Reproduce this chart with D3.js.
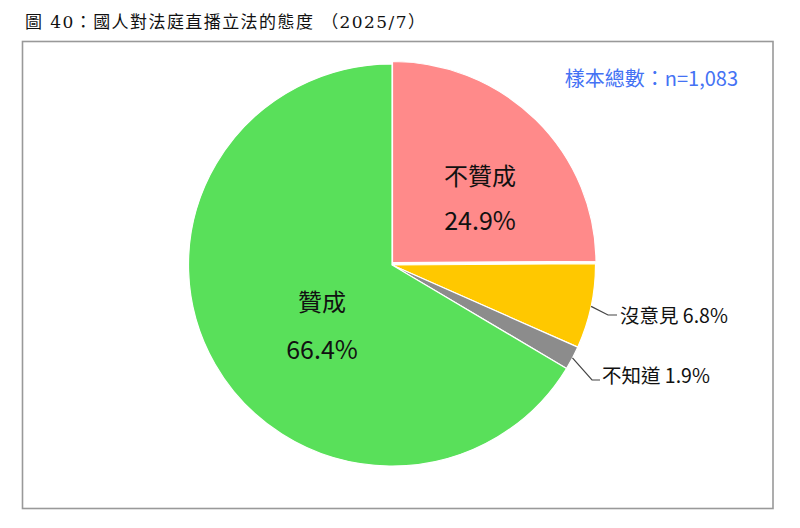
<!DOCTYPE html>
<html>
<head>
<meta charset="utf-8">
<script src="https://cdn.jsdelivr.net/npm/d3@7"></script>
<style>
  body { margin: 0; background: #fff; }
  svg { display: block; }
</style>
</head>
<body>
<svg width="800" height="528"></svg>
<script>
// data
var categories = ['不贊成', '沒意見', '不知道', '贊成'];
var values = [24.9, 6.8, 1.9, 66.4];
var colors = ['#FF8A8A', '#FFC800', '#8C8C8C', '#59E05A'];
var titleText = '圖 40：國人對法庭直播立法的態度 （2025/7）';
var sampleText = '樣本總數：n=1,083';

var svg = d3.select('svg');
var cx = 392, cy = 265, r = 203.5;
var lblFont = "'Noto Sans CJK TC', 'Noto Sans', sans-serif";

// title
svg.append('text')
    .attr('x', 25)
    .attr('y', 22)
    .attr('dominant-baseline', 'central')
    .attr('textLength', 400)
    .attr('lengthAdjust', 'spacing')
    .style('font-family', "'DejaVu Serif', 'Liberation Serif', 'Noto Sans CJK TC', serif")
    .style('font-size', '17px')
    .style('fill', '#111')
    .text(titleText);

// frame
svg.append('rect')
    .attr('x', 22.5)
    .attr('y', 41.5)
    .attr('width', 750.5)
    .attr('height', 467)
    .attr('fill', 'none')
    .attr('stroke', '#999')
    .attr('stroke-width', 1.6);

svg.append('text')
    .attr('x', 738)
    .attr('y', 77)
    .attr('text-anchor', 'end')
    .attr('dominant-baseline', 'central')
    .style('font-family', lblFont)
    .style('font-size', '20px')
    .style('fill', '#4472F4')
    .text(sampleText);

var pie = d3.pie().sort(null).value(function(d) { return d; });
var arcs = pie(values);
var arc = d3.arc().innerRadius(0).outerRadius(r);

// slight vertical squash and pink slice lift, as in the reference
var offsets = [[0.5, -2.5], [0, 0], [0, 0], [0, 0]];
var g = svg.append('g')
    .attr('transform', 'translate(' + [cx, cy] + ') scale(1,0.988)');

g.selectAll('.slice')
    .data(arcs)
    .enter()
    .append('path')
    .attr('class', 'slice')
    .attr('d', arc)
    .attr('transform', function(d, i) { return 'translate(' + offsets[i] + ')'; })
    .attr('fill', function(d, i) { return colors[i]; })
    .attr('stroke', '#fff')
    .attr('stroke-width', 1.2);

// inside labels (big slices)
var inside = [
    { i: 0, x: 480, y1: 174, y2: 219 },
    { i: 3, x: 322, y1: 300, y2: 348 }
];
inside.forEach(function(p) {
    svg.append('text')
        .attr('x', p.x).attr('y', p.y1)
        .attr('text-anchor', 'middle')
        .attr('dominant-baseline', 'central')
        .style('font-family', lblFont)
        .style('font-size', '24px')
        .style('fill', '#111')
        .text(categories[p.i]);
    svg.append('text')
        .attr('x', p.x).attr('y', p.y2)
        .attr('text-anchor', 'middle')
        .attr('dominant-baseline', 'central')
        .style('font-family', lblFont)
        .style('font-size', '25px')
        .style('fill', '#111')
        .text(d3.format('.1f')(values[p.i]) + '%');
});

// outside labels with leader lines
var outside = [
    { i: 1, ex: 608, ey: 315, lx: 617, tx: 620, ty: 314 },
    { i: 2, ex: 592, ey: 380, lx: 600, tx: 602, ty: 374 }
];
outside.forEach(function(p) {
    var a = (arcs[p.i].startAngle + arcs[p.i].endAngle) / 2;
    var sx = cx + r * Math.sin(a);
    var sy = cy - r * Math.cos(a) * 0.988;
    svg.append('polyline')
        .attr('points', [[sx, sy], [p.ex, p.ey], [p.lx, p.ey]].join(' '))
        .attr('fill', 'none')
        .attr('stroke', '#444')
        .attr('stroke-width', 1.2);
    svg.append('text')
        .attr('x', p.tx).attr('y', p.ty)
        .attr('dominant-baseline', 'central')
        .style('font-family', lblFont)
        .style('font-size', '19.5px')
        .style('fill', '#111')
        .text(categories[p.i] + ' ' + d3.format('.1f')(values[p.i]) + '%');
});
</script>
</body>
</html>
